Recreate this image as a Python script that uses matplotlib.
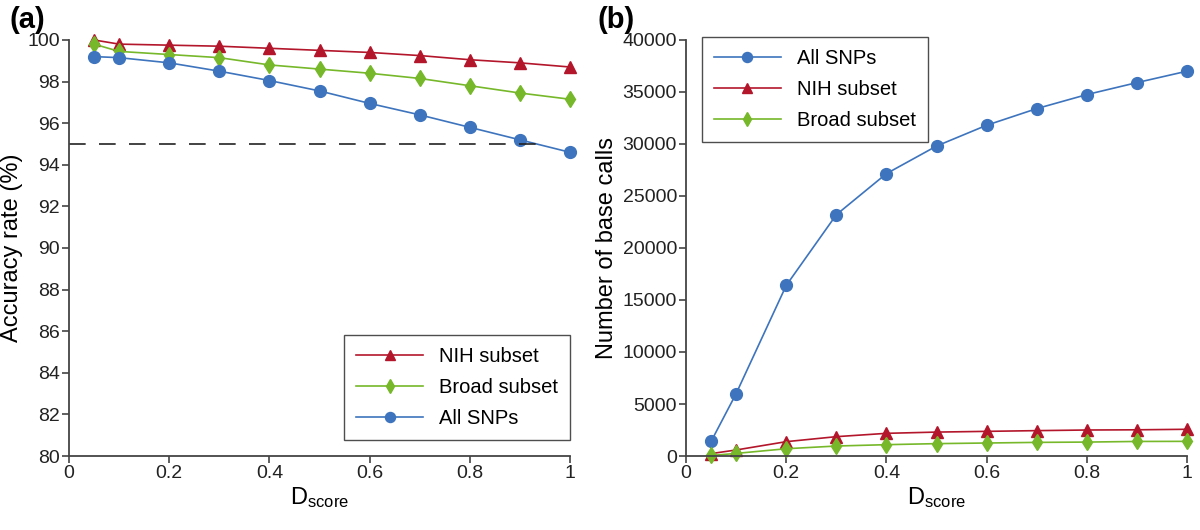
import matplotlib.pyplot as plt
import numpy as np

plt.rcParams['font.family'] = ['Liberation Sans', 'DejaVu Sans']
plt.rcParams['mathtext.fontset'] = 'custom'
plt.rcParams['mathtext.rm'] = 'Liberation Sans'

# D score thresholds
dscore = [0.05, 0.1, 0.2, 0.3, 0.4, 0.5, 0.6, 0.7, 0.8, 0.9, 1.0]

# (a) accuracy rate (%)
acc_nih = [100.0, 99.8, 99.75, 99.7, 99.6, 99.5, 99.4, 99.25, 99.05, 98.9, 98.7]
acc_broad = [99.8, 99.45, 99.3, 99.15, 98.8, 98.6, 98.4, 98.15, 97.8, 97.45, 97.15]
acc_all = [99.2, 99.15, 98.9, 98.5, 98.05, 97.55, 96.95, 96.4, 95.8, 95.2, 94.6]

# (b) number of base calls
n_all = [1400, 6000, 16400, 23200, 27150, 29800, 31800, 33400, 34750, 35900, 37000]
n_nih = [230, 580, 1380, 1860, 2180, 2300, 2370, 2440, 2500, 2520, 2570]
n_broad = [50, 250, 700, 960, 1090, 1190, 1250, 1310, 1340, 1400, 1410]

blue = '#3d74bd'
red = '#b3162b'
green = '#76b82a'

fig = plt.figure(figsize=(12, 5.3), dpi=100)
axa = fig.add_axes([0.0575, 0.1396, 0.4175, 0.785])
axb = fig.add_axes([0.5717, 0.1396, 0.4175, 0.785])

xlab = r'$\mathregular{D_{score}}$'
mk = dict(ms=8.5, lw=1.2, clip_on=False)

# panel a
axa.plot(dscore, acc_nih, color=red, marker='^', label='NIH subset', **mk)
axa.plot(dscore, acc_broad, color=green, marker='d', label='Broad subset', **mk)
axa.plot(dscore, acc_all, color=blue, marker='o', label='All SNPs', **mk)
axa.plot([0, 0.94], [95, 95], color='#222222', lw=1.2, dashes=(10, 8))
axa.set_xlim(0, 1)
axa.set_ylim(80, 100)
axa.set_yticks(np.arange(80, 101, 2))
axa.set_xticks([0, 0.2, 0.4, 0.6, 0.8, 1])
axa.set_xticklabels(['0', '0.2', '0.4', '0.6', '0.8', '1'])
axa.set_ylabel('Accuracy rate (%)', fontsize=17, labelpad=3)
axa.set_xlabel(xlab, fontsize=17, labelpad=2)
leg = axa.legend(loc='lower right', fontsize=14.5, frameon=True, fancybox=False,
                 edgecolor='#222222', handlelength=3.3, borderpad=0.6,
                 labelspacing=0.6, borderaxespad=0, markerscale=0.85,
                 bbox_to_anchor=(1.0, 0.038))
leg.get_frame().set_linewidth(1.0)
fig.text(0.008, 0.948, '(a)', fontsize=21, fontweight='bold')

# panel b
axb.plot(dscore, n_all, color=blue, marker='o', label='All SNPs', **mk)
axb.plot(dscore, n_nih, color=red, marker='^', label='NIH subset', **mk)
axb.plot(dscore, n_broad, color=green, marker='d', label='Broad subset', **mk)
axb.set_xlim(0, 1)
axb.set_ylim(0, 40000)
axb.set_yticks(np.arange(0, 40001, 5000))
axb.set_xticks([0, 0.2, 0.4, 0.6, 0.8, 1])
axb.set_xticklabels(['0', '0.2', '0.4', '0.6', '0.8', '1'])
axb.set_ylabel('Number of base calls', fontsize=17, labelpad=3)
axb.set_xlabel(xlab, fontsize=17, labelpad=2)
leg = axb.legend(loc='upper left', fontsize=14.5, frameon=True, fancybox=False,
                 edgecolor='#222222', handlelength=3.3, borderpad=0.6,
                 labelspacing=0.6, borderaxespad=0, markerscale=0.85,
                 bbox_to_anchor=(0.032, 1.007))
leg.get_frame().set_linewidth(1.0)
fig.text(0.498, 0.948, '(b)', fontsize=21, fontweight='bold')

for ax in (axa, axb):
    for s in ('top', 'right'):
        ax.spines[s].set_visible(False)
    for s in ('left', 'bottom'):
        ax.spines[s].set_color('#444444')
        ax.spines[s].set_linewidth(1.3)
    ax.tick_params(direction='out', length=5, width=1.2, color='#444444',
                   labelsize=14, labelcolor='#222222', pad=1.5)

fig.savefig('out.png', dpi=100)
